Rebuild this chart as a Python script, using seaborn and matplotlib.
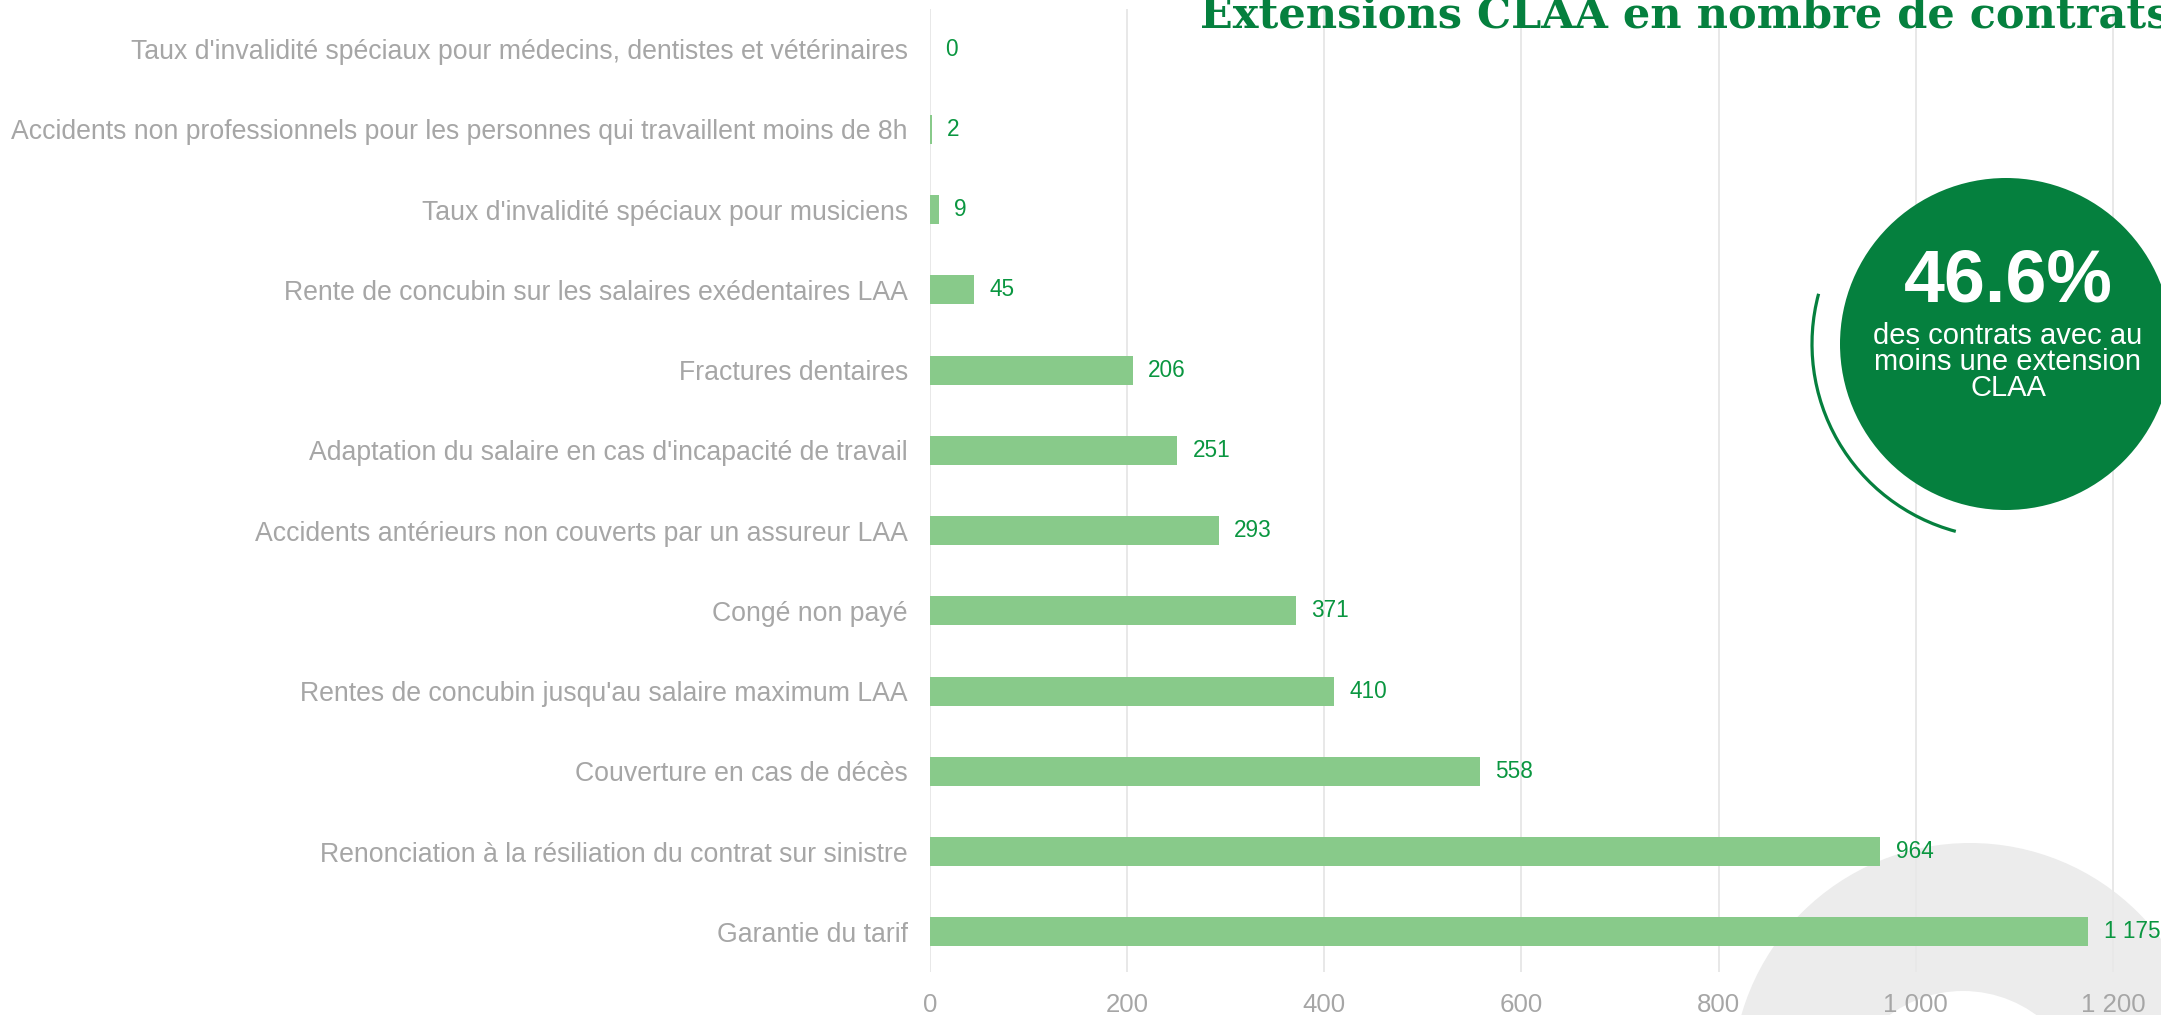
import matplotlib
matplotlib.use('Agg')
import matplotlib.pyplot as plt
from matplotlib.patches import Circle, Arc
import seaborn as sns
import pandas as pd

# Data
categories = [
    "Taux d'invalidité spéciaux pour médecins, dentistes et vétérinaires",
    "Accidents non professionnels pour les personnes qui travaillent moins de 8h",
    "Taux d'invalidité spéciaux pour musiciens",
    "Rente de concubin sur les salaires exédentaires LAA",
    "Fractures dentaires",
    "Adaptation du salaire en cas d'incapacité de travail",
    "Accidents antérieurs non couverts par un assureur LAA",
    "Congé non payé",
    "Rentes de concubin jusqu'au salaire maximum LAA",
    "Couverture en cas de décès",
    "Renonciation à la résiliation du contrat sur sinistre",
    "Garantie du tarif",
]
contracts = [0, 2, 9, 45, 206, 251, 293, 371, 410, 558, 964, 1175]
x_ticks = [0, 200, 400, 600, 800, 1000, 1200]

title = "Extensions CLAA en nombre de contrats"
share_text = "46.6%"
share_caption = "des contrats avec au\nmoins une extension\nCLAA"

BAR_COLOR = '#88ca8a'
LABEL_GREEN = '#0a9640'
DARK_GREEN = '#05803e'
GREY_TEXT = '#a6a6a6'
GRID = '#e8e8e8'

W, H = 2161, 1015


def fmt(v):
    return f"{v:,}".replace(",", " ")


sns.set_style('white')
plt.rcParams['font.family'] = ['Liberation Sans', 'DejaVu Sans']

fig = plt.figure(figsize=(W / 100, H / 100), dpi=100)
fig.patch.set_facecolor('white')

# background decoration (pixel coordinates)
bg = fig.add_axes([0, 0, 1, 1], zorder=0)
bg.set_xlim(0, W)
bg.set_ylim(H, 0)
bg.axis('off')
bg.add_patch(Circle((1970, 1081), 238, color='#ececec', lw=0))
bg.add_patch(Circle((1963, 1115), 124, color='white', lw=0))

# main bar chart
left_px, top_px, bottom_px = 930, 9, 972
ax = fig.add_axes([left_px / W, 1 - bottom_px / H, 1 - left_px / W, (bottom_px - top_px) / H], zorder=1)
ax.patch.set_alpha(0)

df = pd.DataFrame({'Extension': categories, 'Contrats': contracts})
sns.barplot(data=df, x='Contrats', y='Extension', orient='h', color=BAR_COLOR,
            width=0.36, saturation=1, linewidth=0, ax=ax)

ax.set_xlim(0, (W - left_px) / 0.9858)
ax.set_ylim(len(categories) - 0.5, -0.5)
ax.set_xticks(x_ticks)
ax.set_xticklabels([fmt(t) for t in x_ticks])
ax.set_xlabel('')
ax.set_ylabel('')
ax.grid(axis='x', color=GRID, linewidth=1.4)
ax.set_axisbelow(True)
for s in ax.spines.values():
    s.set_visible(False)
ax.tick_params(axis='y', length=0, pad=16, labelsize=19.2, labelcolor=GREY_TEXT)
ax.tick_params(axis='x', length=0, pad=15, labelsize=18.6, labelcolor=GREY_TEXT)

ax.bar_label(ax.containers[0], labels=[fmt(v) for v in contracts], padding=11,
             color=LABEL_GREEN, fontsize=16.3)

# overlay: title and highlight bubble
top = fig.add_axes([0, 0, 1, 1], zorder=3)
top.set_xlim(0, W)
top.set_ylim(H, 0)
top.axis('off')
top.add_patch(Circle((2006, 344), 166, color=DARK_GREEN, lw=0))
top.add_patch(Arc((2006, 344), 388, 388, theta1=105, theta2=195, color=DARK_GREEN, lw=2.3))
top.text(2008, 282, share_text, ha='center', va='center', color='white',
         fontsize=53, fontweight='bold')
top.text(2008, 362, share_caption, ha='center', va='center', color='white',
         fontsize=21, linespacing=0.9)
top.text(1200, 27, title, ha='left', va='baseline', color=DARK_GREEN,
         fontsize=31, fontweight='bold', family='DejaVu Serif', clip_on=False)

fig.savefig('out.png', dpi=100)
